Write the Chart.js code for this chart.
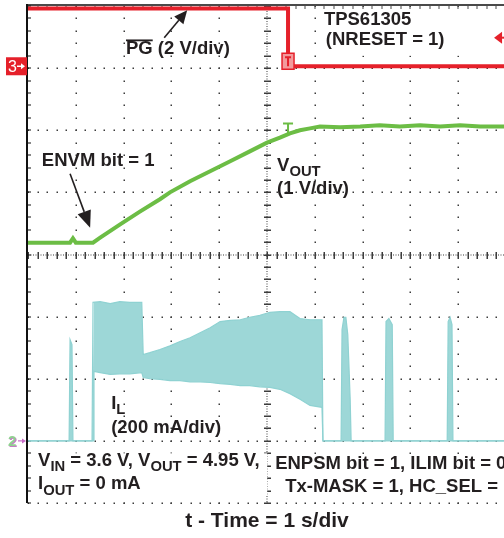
<!DOCTYPE html>
<html>
<head>
<meta charset="utf-8">
<script src="https://cdn.jsdelivr.net/npm/chart.js@4.4.0/dist/chart.umd.min.js"></script>
<style>
  html, body { margin: 0; padding: 0; background: #fff; overflow: hidden; }
</style>
</head>
<body>
<canvas id="scope" width="510" height="538"></canvas>
<script>
// scope capture, units = divisions (x: 1 s/div, y: 8 div screen, center = 0)
const pgT = [0, 5.44, 5.44, 10];
const pgV = [3.96, 3.96, 3.03, 3.03];

const voT = [0, 0.88, 0.94, 1.0, 1.36, 1.51, 1.92, 2.34, 2.76, 2.97, 3.39, 3.81, 4.23, 4.64, 5.0,
  5.27, 5.48, 5.69, 5.9, 6.11, 6.53, 6.95, 7.36, 7.78, 8.2, 8.62, 9.04, 9.46, 10];
const voV = [0.19, 0.19, 0.26, 0.19, 0.19, 0.27, 0.48, 0.69, 0.89, 1.0, 1.18, 1.34, 1.5, 1.66, 1.8,
  1.88, 1.95, 2.0, 2.03, 2.06, 2.05, 2.06, 2.08, 2.06, 2.08, 2.06, 2.08, 2.06, 2.06];

// inductor current: upper / lower envelope of the switching band
const ilT = [0, 0.86, 0.88, 0.92, 0.94, 1.34, 1.36, 1.38, 1.51, 1.72, 1.92, 2.13, 2.38, 2.41, 2.55,
  2.76, 2.97, 3.18, 3.39, 3.60, 3.81, 4.02, 4.23, 4.44, 4.64, 4.85, 5.06, 5.27, 5.48, 5.69,
  5.90, 6.15, 6.17, 6.55, 6.57, 6.61, 6.65, 6.69, 6.74, 6.76, 7.47, 7.49, 7.55, 7.62, 7.64,
  8.77, 8.79, 8.83, 8.87, 8.89, 10];
const ilHi = [-3, -3, -1.37, -1.45, -3, -3, -0.77, -0.77, -0.76, -0.79, -0.76, -0.77, -0.77, -1.61, -1.58,
  -1.53, -1.47, -1.40, -1.34, -1.26, -1.18, -1.08, -1.06, -1.05, -1.01, -0.98, -0.93, -0.92, -0.92, -1.03,
  -1.05, -1.05, -3, -3, -1.21, -1.01, -1.01, -1.29, -2.33, -3, -3, -1.08, -1.03, -1.13, -3,
  -3, -1.08, -1.01, -1.13, -3, -3];
const ilLo = [-3, -3, -3, -3, -3, -3, -3, -1.88, -1.90, -1.93, -1.92, -1.92, -1.90, -1.98, -2.00,
  -2.01, -2.03, -2.03, -2.05, -2.05, -2.06, -2.08, -2.09, -2.11, -2.11, -2.13, -2.14, -2.17, -2.24, -2.33,
  -2.43, -2.46, -3, -3, -3, -3, -3, -3, -3, -3, -3, -3, -3, -3, -3,
  -3, -3, -3, -3, -3, -3];

const RED = '#e5202a', GREEN = '#6cbd45', CYAN = '#9dd7d7', INK = '#231f20';
const FONT = '"Liberation Sans", Arial, sans-serif';

function pts(xs, ys) { return xs.map((x, i) => ({ x: x, y: ys[i] })); }

function arrow(ctx, x1, y1, x2, y2, len, half) {
  const a = Math.atan2(y2 - y1, x2 - x1);
  const bx = x2 - Math.cos(a) * len, by = y2 - Math.sin(a) * len;
  ctx.beginPath(); ctx.moveTo(x1, y1); ctx.lineTo(bx, by); ctx.stroke();
  ctx.beginPath();
  ctx.moveTo(x2, y2);
  ctx.lineTo(bx + Math.sin(a) * half, by - Math.cos(a) * half);
  ctx.lineTo(bx - Math.sin(a) * half, by + Math.cos(a) * half);
  ctx.closePath(); ctx.fill();
}

function rich(ctx, parts, x, y, size) {
  let cx = x;
  for (const [s, sub] of parts) {
    const fs = sub ? size * 0.8 : size;
    ctx.font = 'bold ' + fs + 'px ' + FONT;
    ctx.fillText(s, cx, sub ? y + size * 0.3 : y);
    cx += ctx.measureText(s).width;
  }
  return cx - x;
}

const graticule = {
  id: 'graticule',
  beforeDatasetsDraw(chart) {
    const { ctx, chartArea: a, scales: { x, y } } = chart;
    ctx.save();
    ctx.fillStyle = '#3c3c3c';
    // major lines as dots on the minor positions
    for (let i = 1; i <= 10; i++) {
      if (i === 5) continue;
      const px = Math.round(x.getPixelForValue(i));
      for (let j = -20; j <= 20; j++) ctx.fillRect(px - 0.5, Math.round(y.getPixelForValue(j * 0.2)) - 0.5, 1.5, 1.5);
    }
    for (let k = -4; k <= 3; k++) {
      if (k === 0) continue;
      const py = Math.round(y.getPixelForValue(k));
      for (let m = 0; m <= 50; m++) ctx.fillRect(Math.round(x.getPixelForValue(m * 0.2)) - 0.5, py - 0.5, 1.5, 1.5);
    }
    // center cross: fine dotted line with ticks
    const cx = Math.round(x.getPixelForValue(5)), cy = Math.round(y.getPixelForValue(0));
    for (let p = a.top; p <= a.bottom; p += 2.5) ctx.fillRect(cx - 0.5, p, 1, 1);
    for (let p = a.left; p <= a.right; p += 2.5) ctx.fillRect(p, cy - 0.5, 1, 1);
    for (let j = -20; j <= 20; j++) {
      const py = Math.round(y.getPixelForValue(j * 0.2));
      ctx.fillRect(cx - 3, py - 0.5, 7, 1.5);
    }
    for (let m = 0; m <= 50; m++) {
      const px = Math.round(x.getPixelForValue(m * 0.2));
      ctx.fillRect(px - 0.5, cy - 3, 1.5, 7);
    }
    // frame: top and left edges with small ticks
    ctx.fillStyle = '#4a4a4a';
    ctx.fillRect(a.left - 1, a.top - 2, a.right - a.left + 2, 2);
    for (let m = 0; m <= 50; m++) ctx.fillRect(Math.round(x.getPixelForValue(m * 0.2)) - 0.5, a.top, 1, 3);
    ctx.fillStyle = '#111';
    ctx.fillRect(a.left - 2, a.top - 2, 2, a.bottom - a.top + 2);
    for (let j = -20; j <= 20; j++) ctx.fillRect(a.left, Math.round(y.getPixelForValue(j * 0.2)) - 0.5, 3, 1);
    ctx.restore();
  }
};

const labels = {
  id: 'labels',
  afterDraw(chart) {
    const { ctx, chartArea: a, scales: { x, y } } = chart;
    const X = v => x.getPixelForValue(v), Y = v => y.getPixelForValue(v);
    const S = 18.5;
    ctx.save();
    ctx.textBaseline = 'alphabetic';
    ctx.textAlign = 'left';

    // channel markers
    ctx.fillStyle = RED;
    ctx.fillRect(a.left - 22, Y(3.03) - 9, 21, 18);
    ctx.fillStyle = '#fff';
    ctx.font = '16px ' + FONT;
    ctx.fillText('3', a.left - 20, Y(3.03) + 6);
    ctx.strokeStyle = '#fff'; ctx.lineWidth = 1.5;
    arrow(ctx, a.left - 11, Y(3.03), a.left - 3, Y(3.03), 4, 3);

    ctx.font = 'bold 15px ' + FONT;
    ctx.fillStyle = '#c77cc7';
    ctx.fillText('2', a.left - 19, Y(-3) + 6);
    ctx.fillStyle = '#8fd08f';
    ctx.fillText('2', a.left - 20, Y(-3) + 5);
    ctx.strokeStyle = '#c86cc8'; ctx.fillStyle = '#c86cc8'; ctx.lineWidth = 1.2;
    arrow(ctx, a.left - 10, Y(-3), a.left - 2, Y(-3), 4, 2.5);

    // trigger markers
    ctx.fillStyle = '#f39a9c'; ctx.strokeStyle = RED; ctx.lineWidth = 1.5;
    ctx.fillRect(X(5.44) - 6, Y(3.03) - 13, 12, 16);
    ctx.strokeRect(X(5.44) - 6, Y(3.03) - 13, 12, 16);
    ctx.strokeStyle = RED; ctx.lineWidth = 2;
    ctx.beginPath(); ctx.moveTo(X(5.44) - 3, Y(3.03) - 9); ctx.lineTo(X(5.44) + 3, Y(3.03) - 9);
    ctx.moveTo(X(5.44), Y(3.03) - 9); ctx.lineTo(X(5.44), Y(3.03)); ctx.stroke();
    ctx.strokeStyle = GREEN; ctx.lineWidth = 2;
    ctx.beginPath(); ctx.moveTo(X(5.44) - 5, Y(2.11)); ctx.lineTo(X(5.44) + 5, Y(2.11));
    ctx.moveTo(X(5.44), Y(2.11)); ctx.lineTo(X(5.44), Y(1.95)); ctx.stroke();
    ctx.fillStyle = RED; ctx.strokeStyle = RED; ctx.lineWidth = 2;
    arrow(ctx, X(9.75) + 16, Y(3.49), X(9.75), Y(3.49), 8, 6);

    // white backing for text blocks
    ctx.fillStyle = '#fff';
    ctx.fillRect(X(6.1), Y(3.93), 150, Y(3.2) - Y(3.93));
    ctx.fillRect(X(0.15), Y(-3.2), 232, Y(-3.88) - Y(-3.2));
    ctx.fillRect(X(5.1), Y(-3.25), 240, Y(-3.9) - Y(-3.25));

    ctx.fillStyle = INK;
    ctx.font = 'bold ' + S + 'px ' + FONT;
    ctx.fillText('PG (2 V/div)', X(2.05), Y(3.22));
    const pgw = ctx.measureText('PG').width;
    ctx.fillRect(X(2.05), Y(3.22) - 15, pgw, 1.8);
    ctx.fillText('TPS61305', X(6.19), Y(3.70));
    ctx.fillText('(NRESET = 1)', X(6.23), Y(3.38));
    ctx.fillText('ENVM bit = 1', X(0.29), Y(1.42));
    rich(ctx, [['V'], ['OUT', 1]], X(5.21), Y(1.35), S);
    ctx.font = 'bold ' + S + 'px ' + FONT;
    ctx.fillText('(1 V/div)', X(5.21), Y(0.98));
    rich(ctx, [['I'], ['L', 1]], X(1.74), Y(-2.48), S);
    ctx.font = 'bold ' + S + 'px ' + FONT;
    ctx.fillText('(200 mA/div)', X(1.74), Y(-2.87));
    rich(ctx, [['V'], ['IN', 1], [' = 3.6 V, V'], ['OUT', 1], [' = 4.95 V,']], X(0.21), Y(-3.40), S);
    rich(ctx, [['I'], ['OUT', 1], [' = 0 mA']], X(0.21), Y(-3.78), S);
    ctx.font = 'bold ' + S + 'px ' + FONT;
    ctx.fillText('ENPSM bit = 1, ILIM bit = 0,', X(5.17), Y(-3.46));
    ctx.fillText('Tx-MASK = 1, HC_SEL = 1', X(5.38), Y(-3.82));

    // pointer arrows
    ctx.strokeStyle = INK; ctx.fillStyle = INK; ctx.lineWidth = 1.6;
    arrow(ctx, X(2.85), Y(3.49), X(3.33), Y(3.93), 13, 6);
    arrow(ctx, X(0.88), Y(1.30), X(1.30), Y(0.43), 17, 7);

    // axis caption
    ctx.textAlign = 'center';
    ctx.font = 'bold 21px ' + FONT;
    ctx.fillText('t - Time = 1 s/div', X(5), a.bottom + 24);
    ctx.restore();
  }
};

new Chart(document.getElementById('scope'), {
  type: 'line',
  data: {
    datasets: [
      { data: pts(pgT, pgV), borderColor: RED, borderWidth: 4, pointRadius: 0, tension: 0 },
      { data: pts(voT, voV), borderColor: GREEN, borderWidth: 4, pointRadius: 0, tension: 0 },
      { data: pts(ilT, ilHi), borderColor: '#8fd2d2', borderWidth: 1.2, pointRadius: 0, tension: 0, fill: false },
      { data: pts(ilT, ilLo), borderColor: '#8fd2d2', borderWidth: 1.2, pointRadius: 0, tension: 0,
        fill: '-1', backgroundColor: CYAN }
    ]
  },
  options: {
    responsive: false,
    animation: false,
    layout: { padding: { left: 28, top: 6, right: 4, bottom: 35 } },
    plugins: { legend: { display: false }, tooltip: { enabled: false } },
    scales: {
      x: { type: 'linear', min: 0, max: 10, display: false },
      y: { type: 'linear', min: -4, max: 4, display: false }
    }
  },
  plugins: [graticule, labels]
});
</script>
</body>
</html>
